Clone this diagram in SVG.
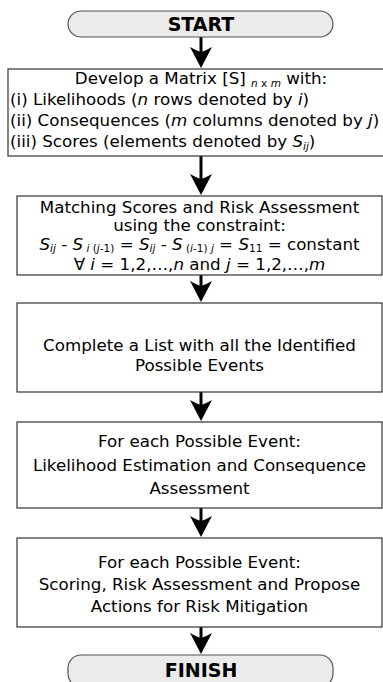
<svg xmlns="http://www.w3.org/2000/svg" width="383" height="682" viewBox="0 0 383 682">
<style>
.box{fill:#ffffff;stroke:#333333;stroke-width:1.2}
.term{fill:#ebebeb;stroke:#555555;stroke-width:1.2}
text{font-family:"DejaVu Sans",Verdana,sans-serif;font-size:16.7px;fill:#000000}
.c{text-anchor:middle}
.b{font-weight:bold;font-size:19px}
.i{font-style:italic}
.s{font-size:10.5px}
.stem{stroke:#000;stroke-width:3}
</style>
<defs>
<path id="head" d="M0,0 L-11,-21 Q-4,-17 0,-16 Q4,-17 11,-21 Z" fill="#000"/>
</defs>
<rect width="383" height="682" fill="#ffffff"/>
<g id="connectors">
<line class="stem" x1="201" y1="37" x2="201" y2="52"/><use href="#head" x="201" y="68"/>
<line class="stem" x1="201" y1="156" x2="201" y2="180"/><use href="#head" x="201" y="195"/>
<line class="stem" x1="201" y1="275" x2="201" y2="287"/><use href="#head" x="201" y="302"/>
<line class="stem" x1="201" y1="392" x2="201" y2="406"/><use href="#head" x="201" y="421"/>
<line class="stem" x1="201" y1="508" x2="201" y2="522"/><use href="#head" x="201" y="537"/>
<line class="stem" x1="201" y1="627" x2="201" y2="639"/><use href="#head" x="201" y="654"/>
</g>
<g id="start">
<rect class="term" x="68" y="11" width="265" height="26" rx="13"/>
<text class="c b" x="201" y="31">START</text>
</g>
<g id="matrix">
<rect class="box" x="8" y="69" width="392" height="87"/>
<text class="c" x="201" y="84">Develop a Matrix [S] <tspan class="s" dy="2.5"><tspan class="i">n</tspan> x <tspan class="i">m</tspan></tspan><tspan dy="-2.5"> with:</tspan></text>
<text x="10" y="105">(i) Likelihoods (<tspan class="i">n</tspan> rows denoted by <tspan class="i">i</tspan>)</text>
<text x="10" y="126">(ii) Consequences (<tspan class="i">m</tspan> columns denoted by <tspan class="i">j</tspan>)</text>
<text x="10" y="147">(iii) Scores (elements denoted by <tspan class="i">S</tspan><tspan class="s i" dy="2.5">ij</tspan><tspan dy="-2.5">)</tspan></text>
</g>
<g id="matching">
<rect class="box" x="17" y="196" width="365" height="79"/>
<text class="c" x="199.5" y="212.5">Matching Scores and Risk Assessment</text>
<text class="c" x="199.5" y="231">using the constraint:</text>
<text class="c" x="199.5" y="249.5"><tspan class="i">S</tspan><tspan class="s i" dy="2.5">ij</tspan><tspan dy="-2.5"> - </tspan><tspan class="i">S</tspan><tspan class="s" dy="2.5"> <tspan class="i">i</tspan> (<tspan class="i">j</tspan>-1)</tspan><tspan dy="-2.5"> = </tspan><tspan class="i">S</tspan><tspan class="s i" dy="2.5">ij</tspan><tspan dy="-2.5"> - </tspan><tspan class="i">S</tspan><tspan class="s" dy="2.5"> (<tspan class="i">i</tspan>-1) <tspan class="i">j</tspan></tspan><tspan dy="-2.5"> = </tspan><tspan class="i">S</tspan><tspan class="s" dy="2.5">11</tspan><tspan dy="-2.5"> = constant</tspan></text>
<text class="c" x="199.5" y="269.5">∀ <tspan class="i">i</tspan> = 1,2,…,<tspan class="i">n</tspan> and <tspan class="i">j</tspan> = 1,2,…,<tspan class="i">m</tspan></text>
</g>
<g id="list">
<rect class="box" x="17" y="303" width="365" height="89"/>
<text class="c" x="199.5" y="351">Complete a List with all the Identified</text>
<text class="c" x="199.5" y="371">Possible Events</text>
</g>
<g id="estimation">
<rect class="box" x="17" y="422" width="365" height="86"/>
<text class="c" x="199.5" y="447">For each Possible Event:</text>
<text class="c" x="199.5" y="471">Likelihood Estimation and Consequence</text>
<text class="c" x="199.5" y="494">Assessment</text>
</g>
<g id="scoring">
<rect class="box" x="17" y="538" width="365" height="89"/>
<text class="c" x="199.5" y="568">For each Possible Event:</text>
<text class="c" x="199.5" y="590">Scoring, Risk Assessment and Propose</text>
<text class="c" x="199.5" y="612">Actions for Risk Mitigation</text>
</g>
<g id="finish">
<rect class="term" x="68" y="655" width="265" height="32" rx="13"/>
<text class="c b" x="201" y="677">FINISH</text>
</g>
</svg>
